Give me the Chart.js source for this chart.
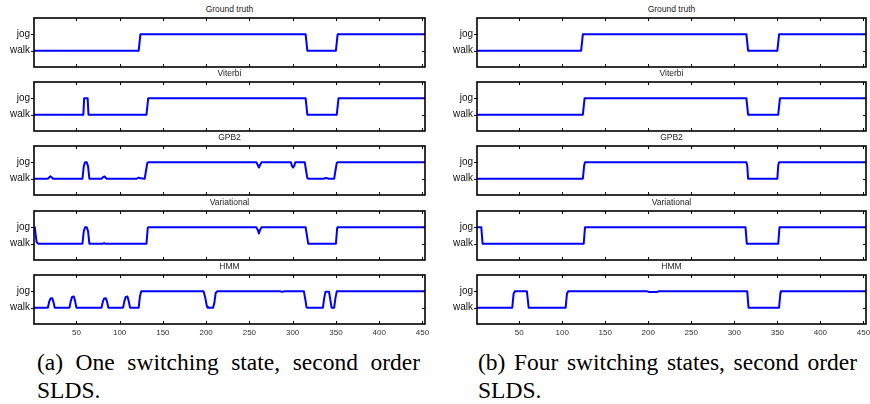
<!DOCTYPE html>
<html>
<head>
<meta charset="utf-8">
<script src="https://cdn.jsdelivr.net/npm/chart.js@4/dist/chart.umd.min.js"></script>
<style>
body { margin: 0; background: #fff; width: 870px; height: 404px; position: relative; overflow: hidden; font-family: "Liberation Sans", Arial, sans-serif; }
canvas { position: absolute; }
.ttl { position: absolute; font-size: 8.5px; line-height: 10px; color: #222; text-align: center; white-space: nowrap; }
.cap { position: absolute; font-family: "Liberation Serif", "Times New Roman", serif; font-size: 23.5px; line-height: 27.5px; text-align: justify; color: #000; }
</style>
</head>
<body>
<script>
// x ticks and state labels
const xTicks = [50, 100, 150, 200, 250, 300, 350, 400, 450];
const stateNames = ['walk', 'jog'];   // y = 1, y = 2
const panelTitles = ['Ground truth', 'Viterbi', 'GPB2', 'Variational', 'HMM'];
const captions = ['(a) One switching state, second order SLDS.', '(b) Four switching states, second order SLDS.'];

// (a) one switching state  -- [time, state]
const gtA = [[1,1],[122,1],[124,2],[315,2],[317,1],[350,1],[352,2],[453,2]];
const viterbiA = [[1,1],[58,1],[59,2],[63,2],[64,1],[131,1],[133,2],[315,2],[317,1],[351,1],[353,2],[453,2]];
const gpb2A = [[1,1],[17,1],[19,1.1],[20,1.14],[21,1.1],[23,1],[57,1],[58.5,1.75],[60,2],[62,2],[63.5,1.75],[65,1],
  [79,1],[81,1.1],[82,1.13],[83,1.1],[85,1],[120,1],[122,1.06],[124,1.02],[129,1],[130.5,1.5],[132,1.97],[133,2],
  [258,2],[260,1.8],[261,1.68],[262,1.8],[264,2],[298,2],[299,1.8],[300.5,1.68],[302,1.8],[303,2],[314,2],[315.5,1.5],
  [317,1.03],[318,1],[336,1],[338,1.04],[340,1.03],[342,1],[348,1],[349.5,1.5],[351,1.97],[352,2],[453,2]];
const variationalA = [[1,2],[2,1.95],[4,1.1],[6,1],[57,1],[58.5,1.75],[60,2],[62,2],[63.5,1.75],[65,1],[80,1],[82,1.02],[84,1],
  [131,1],[132.5,1.97],[133,2],[258,2],[260,1.8],[261,1.63],[262,1.8],[264,2],[315,2],[316.5,1.5],[318,1],[350,1],[351.5,1.97],[352,2],[453,2]];
const hmmA = [[1,1],[17,1],[18.5,1.35],[20,1.56],[22,1.58],[23.5,1.35],[25,1],[42,1],[43.5,1.4],[45,1.66],[47,1.68],[48.5,1.4],[50,1],
  [79,1],[80.5,1.35],[82,1.56],[84,1.58],[85.5,1.35],[87,1],[104,1],[105.5,1.4],[107,1.66],[109,1.68],[110.5,1.4],[112,1],
  [122,1],[123.5,1.7],[125,2],[197,2],[199,1.6],[201,1.05],[202,1],[208,1],[209.5,1.3],[211,1.9],[213,2],[285,2],[288,1.98],[291,2],
  [313,2],[315,1.4],[316,1.02],[317,1],[335,1],[336.5,1.6],[338,1.98],[342,1.98],[343.5,1.5],[345,1],[348,1],[349.5,1.6],[351,2],[453,2]];

// (b) four switching states
const gtB = [[1,1],[122,1],[124,2],[314,2],[316,1],[350,1],[352,2],[453,2]];
const viterbiB = [[1,1],[124,1],[126,2],[314,2],[316,1],[351,1],[353,2],[453,2]];
const gpb2B = [[1,1],[124,1],[125.5,1.8],[126.5,2],[314,2],[315,1.8],[316,1],[350,1],[351,1.8],[352,2],[453,2]];
const variationalB = [[1,2],[6,2],[7.5,1],[125,1],[126.5,2],[313,2],[314.5,1],[351,1],[352.5,2],[453,2]];
const hmmB = [[1,1],[42,1],[43.5,1.85],[45,2],[59,2],[60,1.5],[61,1],[104,1],[105.5,1.85],[107,2],[199,2],[201,1.96],[210,1.96],
  [212,2],[315,2],[316.5,1],[352,1],[353.5,1.9],[354,2],[453,2]];

const columns = [
  { series: [gtA, viterbiA, gpb2A, variationalA, hmmA], canvasLeft: 0, width: 432, axisW: 34, padRight: 7, caption: captions[0], capLeft: 37, capWidth: 383 },
  { series: [gtB, viterbiB, gpb2B, variationalB, hmmB], canvasLeft: 440, width: 430, axisW: 37, padRight: 4, caption: captions[1], capLeft: 478, capWidth: 379 }
];
const boxTops = [18, 82, 146, 211, 275];
const boxH = 49;

const framePlugin = {
  id: 'frame',
  afterDraw(chart) {
    const { ctx, chartArea: a, scales: { x, y } } = chart;
    ctx.save();
    ctx.strokeStyle = '#000';
    ctx.lineWidth = 1;
    ctx.beginPath();
    xTicks.forEach(v => {
      const px = Math.round(x.getPixelForValue(v)) + 0.5;
      ctx.moveTo(px, a.top); ctx.lineTo(px, a.top + 3);
      ctx.moveTo(px, a.bottom); ctx.lineTo(px, a.bottom - 3);
    });
    [1, 2].forEach(v => {
      const py = Math.round(y.getPixelForValue(v)) + 0.5;
      ctx.moveTo(a.right, py); ctx.lineTo(a.right - 3, py);
      ctx.moveTo(a.left, py); ctx.lineTo(a.left - 3, py);
    });
    ctx.stroke();
    ctx.lineWidth = 1.6;
    ctx.strokeRect(a.left, a.top, a.right - a.left, a.bottom - a.top);
    ctx.restore();
  }
};

function addTitle(text, centerX, top) {
  const d = document.createElement('div');
  d.className = 'ttl';
  d.textContent = text;
  d.style.left = (centerX - 60) + 'px';
  d.style.width = '120px';
  d.style.top = top + 'px';
  document.body.appendChild(d);
}

columns.forEach(col => {
  col.series.forEach((data, i) => {
    const bottomPanel = i === col.series.length - 1;
    const canvas = document.createElement('canvas');
    const h = 4 + boxH + (bottomPanel ? 16 : 4);
    canvas.width = col.width;
    canvas.height = h;
    canvas.style.left = col.canvasLeft + 'px';
    canvas.style.top = (boxTops[i] - 4) + 'px';
    document.body.appendChild(canvas);

    new Chart(canvas, {
      type: 'line',
      data: {
        datasets: [{
          data: data,
          borderColor: '#0000ff',
          borderWidth: 2,
          borderJoinStyle: 'round',
          pointRadius: 0,
          tension: 0,
          fill: false
        }]
      },
      options: {
        responsive: false,
        animation: false,
        events: [],
        layout: { padding: { left: 0, top: 4, right: col.padRight, bottom: bottomPanel ? 2 : 4 } },
        scales: {
          x: {
            type: 'linear',
            min: 1,
            max: 453,
            display: bottomPanel,
            afterBuildTicks: s => { s.ticks = xTicks.map(v => ({ value: v })); },
            afterFit: s => { s.height = bottomPanel ? 14 : 0; s.paddingLeft = 0; s.paddingRight = 0; },
            grid: { display: false, drawTicks: false },
            border: { display: false },
            ticks: { font: { family: 'Liberation Sans', size: 8 }, color: '#333', padding: 4, maxRotation: 0, autoSkip: false }
          },
          y: {
            min: 0,
            max: 3,
            afterBuildTicks: s => { s.ticks = [{ value: 1 }, { value: 2 }]; },
            afterFit: s => { s.width = col.axisW; s.paddingTop = 0; s.paddingBottom = 0; },
            grid: { display: false, drawTicks: false },
            border: { display: false },
            ticks: {
              font: { family: 'Liberation Sans', size: 10 },
              color: '#111',
              padding: 4,
              callback: v => stateNames[v - 1]
            }
          }
        },
        plugins: { legend: { display: false }, tooltip: { enabled: false } }
      },
      plugins: [framePlugin]
    });

    const chartLeft = col.canvasLeft + col.axisW;
    const chartRight = col.canvasLeft + col.width - col.padRight;
    addTitle(panelTitles[i], (chartLeft + chartRight) / 2, boxTops[i] - 14);
  });

  const cap = document.createElement('div');
  cap.className = 'cap';
  cap.textContent = col.caption;
  cap.style.left = col.capLeft + 'px';
  cap.style.width = col.capWidth + 'px';
  cap.style.top = '349px';
  document.body.appendChild(cap);
});
</script>
</body>
</html>
